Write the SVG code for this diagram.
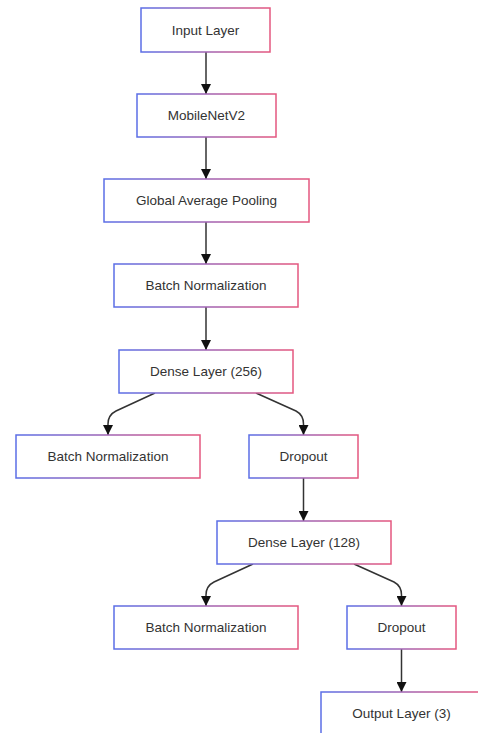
<svg xmlns="http://www.w3.org/2000/svg" width="478" height="733" viewBox="0 0 478 733">
<defs>
<linearGradient id="bord" x1="0" y1="0" x2="1" y2="0">
<stop offset="0" stop-color="#5b6ee6"/>
<stop offset="1" stop-color="#e4577f"/>
</linearGradient>
<marker id="arr" markerUnits="userSpaceOnUse" markerWidth="10" markerHeight="10" viewBox="0 0 10 10" refX="10" refY="5" orient="auto">
<path d="M0,0 L10,5 L0,10 z" fill="#111"/>
</marker>
</defs>
<style>
.box{fill:#fff;stroke:url(#bord);stroke-width:1.5}
.lbl{font-family:"Liberation Sans",Arial,sans-serif;font-size:13.5px;fill:#333;text-anchor:middle;dominant-baseline:central}
.edge{fill:none;stroke:#333;stroke-width:1.5;marker-end:url(#arr)}
</style>
<rect width="478" height="733" fill="#fff"/>
<g id="connectors">
<path class="edge" d="M206,52 V94"/>
<path class="edge" d="M206,137 V179"/>
<path class="edge" d="M206,222 V264"/>
<path class="edge" d="M206,307 V350"/>
<path class="edge" d="M155,393 L116,411 Q108,415 108,424 V435"/>
<path class="edge" d="M256,393 L296,411 Q303.5,415 303.5,424 V435"/>
<path class="edge" d="M303.5,478 V521"/>
<path class="edge" d="M253,564 L214,582 Q206,586 206,595 V606"/>
<path class="edge" d="M354,564 L394,582 Q401.5,586 401.5,595 V606"/>
<path class="edge" d="M401.5,649 V692"/>
</g>
<g id="input"><rect class="box" x="141" y="8" width="129" height="44"/><text class="lbl" x="205.5" y="30">Input Layer</text></g>
<g id="mobilenet"><rect class="box" x="137" y="94" width="139" height="43"/><text class="lbl" x="206.5" y="115.5">MobileNetV2</text></g>
<g id="gap"><rect class="box" x="104" y="179" width="205" height="43"/><text class="lbl" x="206.5" y="200.5">Global Average Pooling</text></g>
<g id="bn1"><rect class="box" x="114" y="264" width="184" height="43"/><text class="lbl" x="206" y="285.5">Batch Normalization</text></g>
<g id="dense256"><rect class="box" x="119" y="350" width="174" height="43"/><text class="lbl" x="206" y="371.5">Dense Layer (256)</text></g>
<g id="bn2"><rect class="box" x="16" y="435" width="184" height="43"/><text class="lbl" x="108" y="456.5">Batch Normalization</text></g>
<g id="dropout1"><rect class="box" x="249" y="435" width="109" height="43"/><text class="lbl" x="303.5" y="456.5">Dropout</text></g>
<g id="dense128"><rect class="box" x="217" y="521" width="174" height="43"/><text class="lbl" x="304" y="542.5">Dense Layer (128)</text></g>
<g id="bn3"><rect class="box" x="114" y="606" width="184" height="43"/><text class="lbl" x="206" y="627.5">Batch Normalization</text></g>
<g id="dropout2"><rect class="box" x="347" y="606" width="109" height="43"/><text class="lbl" x="401.5" y="627.5">Dropout</text></g>
<g id="output"><rect class="box" x="321" y="692" width="161" height="43"/><text class="lbl" x="401.5" y="713.5">Output Layer (3)</text></g>
</svg>
